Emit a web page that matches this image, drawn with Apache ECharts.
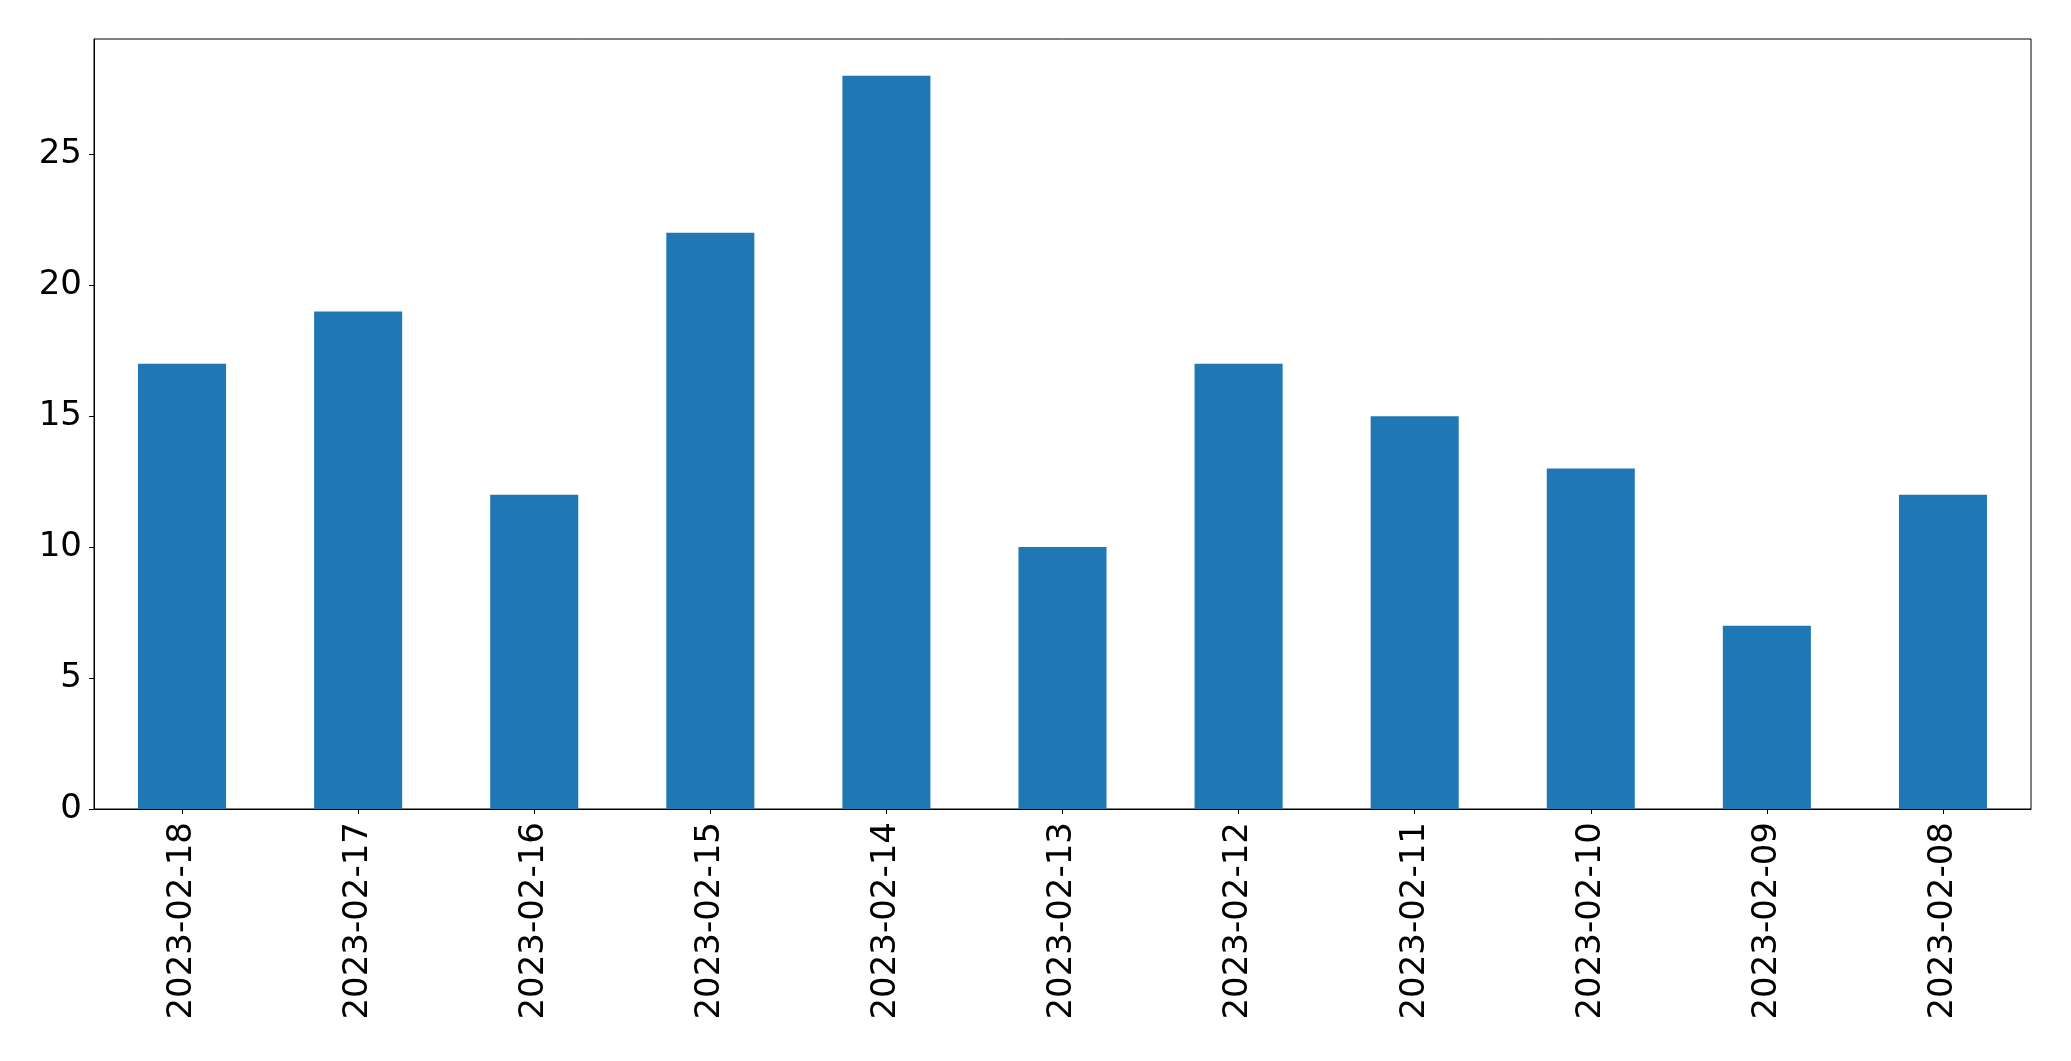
<!DOCTYPE html>
<html>
<head>
<meta charset="utf-8">
<script src="https://cdn.jsdelivr.net/npm/echarts@6/dist/echarts.min.js"></script>
<style>
html,body{margin:0;padding:0;background:#fff;}
#chart{width:2071px;height:1061px;}
</style>
</head>
<body>
<div id="chart"></div>
<script>
const categories = ["2023-02-18","2023-02-17","2023-02-16","2023-02-15","2023-02-14","2023-02-13","2023-02-12","2023-02-11","2023-02-10","2023-02-09","2023-02-08"];
const values = [17, 19, 12, 22, 28, 10, 17, 15, 13, 7, 12];
const yTicks = [0, 5, 10, 15, 20, 25];

const chart = echarts.init(document.getElementById('chart'), null, {renderer: 'canvas'});
const font = '"DejaVu Sans", sans-serif';
chart.setOption({
  animation: false,
  backgroundColor: '#ffffff',
  grid: {
    left: 94, right: 40, top: 39, bottom: 252,
    show: true, borderColor: '#000000', borderWidth: 1, backgroundColor: 'transparent'
  },
  xAxis: {
    type: 'category',
    data: categories,
    boundaryGap: true,
    axisLine: {show: true, lineStyle: {color: '#000', width: 1}},
    axisTick: {show: true, alignWithLabel: true, length: 5, lineStyle: {color: '#000', width: 1}},
    axisLabel: {rotate: 90, fontSize: 34, color: '#000', fontFamily: font, margin: 13, interval: 0},
    splitLine: {show: false}
  },
  yAxis: {
    type: 'value',
    min: 0, max: 29.4, interval: 5,
    axisLine: {show: true, lineStyle: {color: '#000', width: 1}},
    axisTick: {show: true, length: 5, lineStyle: {color: '#000', width: 1}, customValues: yTicks},
    axisLabel: {fontSize: 34, color: '#000', fontFamily: font, margin: 12, customValues: yTicks},
    splitLine: {show: false}
  },
  series: [{
    type: 'bar',
    data: values,
    barWidth: '50%',
    itemStyle: {color: '#1f77b4'}
  }]
});
</script>
</body>
</html>
